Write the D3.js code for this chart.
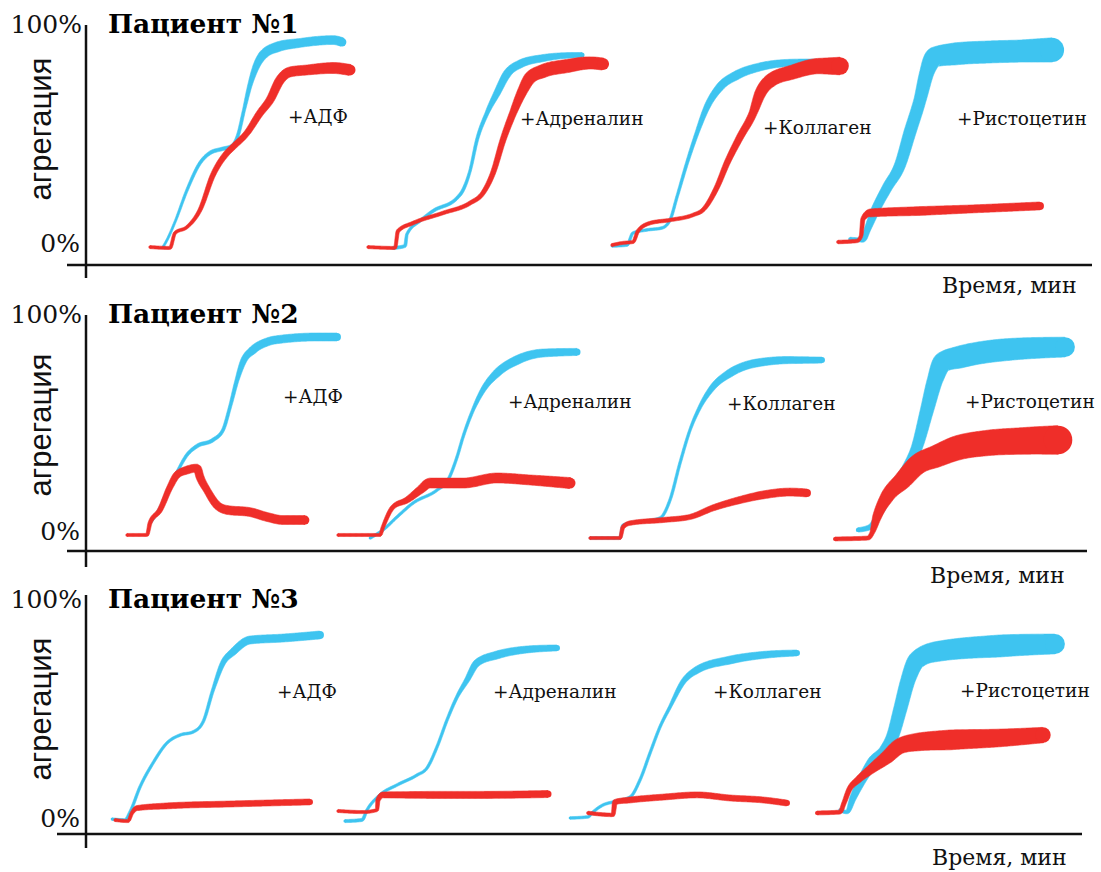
<!DOCTYPE html>
<html lang="ru">
<head>
<meta charset="UTF-8">
<title>Агрегация тромбоцитов</title>
<script src="https://cdn.jsdelivr.net/npm/d3@7"></script>
<style>
    body { margin: 0; background: #fff; }
    svg { display: block; }
    .axis-line { stroke: #111; stroke-width: 2.5; }
    .pct { font-family: "DejaVu Serif", serif; font-size: 25px; fill: #111; }
    .title { font-family: "DejaVu Serif", serif; font-size: 26.5px; font-weight: bold; fill: #000; }
    .ylab { font-family: "Liberation Sans", Arial, sans-serif; font-size: 31px; fill: #111; }
    .agent { font-family: "DejaVu Serif", serif; font-size: 18.5px; fill: #111; }
    .xlab { font-family: "DejaVu Serif", serif; font-size: 22px; fill: #111; }
</style>
</head>
<body>
<svg id="chart" width="1101" height="872"></svg>
<script>
    // labels
    var patients = ["Пациент №1", "Пациент №2", "Пациент №3"];
    var agonists = ["+АДФ", "+Адреналин", "+Коллаген", "+Ристоцетин"];

    // traces: [time, s ; aggregation, % ; signal spread, %]
    // one run per agonist, blue = norm, red = patient
    var p1Blue = [
        [[77,-1.4,1],[81,1.8,1],[89,10,1],[101,24.5,1.2],[114,36.8,1.4],[124,41.4,1.6],[136,43.2,1.6],[146,44.5,1.6],[152,49.5,1.4],[158,60.9,1.4],[164,72.3,2],[170,80.5,3],[177,85.9,4],[191,89.5,4.5],[214,91.4,4],[247,92.7,4],[256,91.8,4]],
        [[307,-1.8,1.4],[319,-0.9,1.4],[321,4.5,1.2],[334,10.5,1.2],[347,15,1.4],[371,20.9,1.4],[377,24.5,1.4],[384,33.2,1.2],[391,47.3,1.4],[401,59.5,1.8],[411,68.6,3],[421,77.3,3.6],[434,81.8,3.6],[457,84.5,3.2],[474,85.5,2.7],[496,85.9,2.3]],
        [[526,-0.9,1.2],[541,-0.5,1.2],[547,5,1.2],[561,6.4,1.2],[576,7.3,1.2],[584,10.9,1.2],[591,21.4,1.2],[601,36.8,1.4],[611,50.5,1.8],[621,62.3,2.7],[634,71.4,3.6],[651,76.8,4],[674,80.5,3.6],[701,82.3,3.2],[729,82.7,2.7]],
        [[764,2.3,1.6],[777,1.8,2],[782,7.3,3],[789,15,4],[801,25.5,4.5],[814,35.9,5],[824,50.9,5.5],[834,65.5,5.5],[841,78.2,6.5],[849,85,9],[869,86.4,10],[904,87.3,10],[934,87.7,10],[966,88.2,11]]
    ];
    var p1Red = [
        [[64,-1.4,1.4],[84,-1.8,1.4],[89,5,1.4],[101,7.7,1.4],[114,15.5,1.8],[127,31.4,2.3],[141,41.4,2.7],[147,44.1,2.7],[161,50.5,2.7],[174,59.5,3.2],[184,65.5,3.6],[194,74.5,4.1],[204,78.2,4.5],[221,79.1,4.5],[247,80,5],[264,79.1,5]],
        [[282,-1.4,1.4],[309,-1.8,1.4],[312,5.9,1.6],[327,9.5,1.6],[357,14.1,1.6],[384,18.6,1.8],[397,23.2,2],[407,32.3,2.3],[417,47.3,2.7],[427,59.5,3.2],[437,70,4.5],[444,75.5,5.5],[457,78.6,6],[481,80.9,6],[504,82.3,5.5],[517,81.8,5.5]],
        [[526,-0.5,1.4],[537,0.5,1.4],[547,0.9,1.4],[552,5.9,1.6],[564,9.5,1.6],[584,10.9,1.6],[607,13.2,1.6],[617,15.5,1.8],[631,25.9,2.3],[641,36.8,2.7],[654,48.6,3.2],[667,59.5,3.6],[674,68.2,5],[684,74.1,6],[707,78.2,6.4],[734,80.9,7],[754,80.9,8]],
        [[752,0.9,1.6],[771,1.4,1.6],[775,3.6,1.6],[777,11.4,2],[784,14.1,3.6],[834,15,4],[884,15.9,3.6],[954,17.3,3.6]]
    ];

    var p2Blue = [
        [[64,4.5,1.2],[74,11.4,1.2],[84,21.8,1.2],[91,27.7,1.2],[101,35.5,1.4],[111,39.5,1.6],[127,42.3,1.6],[137,46.8,1.4],[144,57.3,1.4],[151,69.5,1.8],[157,77.7,2.7],[167,83.2,3.6],[181,86.8,3.6],[197,88.2,3.6],[231,89.1,3.6],[251,89.1,3.6]],
        [[284,-2.3,1.2],[297,1.4,1.2],[311,7.3,1.2],[327,13.6,1.2],[351,19.5,1.2],[362,24.1,1.2],[371,34.5,1.2],[377,43.6,1.2],[387,55.9,1.4],[397,65,2.3],[411,72.7,3.6],[431,78.6,4],[457,81.8,3.6],[491,82.3,3.2]],
        [[504,-2.3,1.2],[534,-2.3,1.2],[537,3.6,1.2],[574,6.8,1.2],[584,15,1.2],[594,31.8,1.2],[604,46.8,1.2],[614,57.3,1.6],[627,66.4,2.7],[644,72.7,3.6],[671,77.3,3.6],[704,78.6,3.2],[736,78.6,2.7]],
        [[772,1.4,2],[784,2.7,2.3],[794,9.5,3],[807,20.5,4],[821,29.5,4.5],[831,39.1,5],[841,55.9,6],[849,69.5,7],[857,77.7,9],[874,80,10],[917,83.2,10],[979,84.5,9]]
    ];
    var p2Red = [
        [[41,-0.9,1.4],[61,-0.9,1.4],[64,4.5,1.8],[74,10.5,2.3],[84,20.9,2.7],[91,26.4,3.2],[101,28.6,3.6],[111,29.5,3.6],[114,25.5,3.6],[121,19.5,3.2],[131,12.7,3.6],[141,10.5,4],[164,9.5,4],[181,7.3,4],[197,5.9,4],[219,5.9,4]],
        [[252,-0.9,1.4],[294,-0.9,1.4],[297,2.7,1.6],[307,11.8,2],[321,15,2.7],[334,19.5,3.6],[344,22.7,4.5],[377,22.7,4.5],[411,25,4.5],[444,24.1,4.5],[484,22.7,5]],
        [[504,-2.3,1.4],[534,-2.3,1.4],[537,2.7,1.8],[544,4.5,2],[577,5.9,2.3],[604,7.3,2.3],[627,11.4,2.7],[654,15,3.2],[677,17.3,3.6],[704,18.6,3.6],[721,18.2,3.6]],
        [[749,-2.7,1.8],[782,-2.3,1.8],[786,0,2],[791,7.3,4],[801,16.4,6],[817,24.1,8],[831,30.9,9],[851,35,10],[871,38.6,11],[901,40.9,11.5],[934,41.8,12],[972,42.3,13]]
    ];

    var p3Blue = [
        [[26,-0.5,1.2],[39,-0.9,1.2],[44,2.7,1.2],[54,14.1,1.2],[67,25,1.2],[81,34.1,1.2],[94,37.7,1.2],[107,39.1,1.2],[117,43.6,1.2],[127,58.2,1.4],[137,70.5,2.3],[147,75.5,3.2],[164,80.9,3.6],[197,81.8,3.6],[234,83.2,3.6]],
        [[259,-1.4,1.4],[276,-0.9,1.4],[281,3.6,1.2],[294,10.5,1.2],[311,15,1.2],[331,19.5,1.2],[341,22.7,1.2],[351,32.3,1.2],[361,44.5,1.2],[371,55,1.4],[381,62.7,2.3],[391,70.5,3.2],[411,74.1,3.6],[437,76.4,3.2],[471,77.3,2.7]],
        [[484,0,1.2],[502,0.5,1.2],[507,2.7,1.2],[517,5.9,1.2],[527,7.3,1.2],[544,9.5,1.2],[554,17.3,1.2],[564,29.5,1.2],[574,41.4,1.2],[584,50.5,1.4],[597,61.8,2.3],[611,67.3,3.2],[644,71.8,3.6],[677,74.1,3.2],[711,75,2.7]],
        [[754,3.6,1.6],[761,2.7,1.6],[767,9.1,3],[777,18.2,4],[787,25.5,5],[799,30.9,5],[807,37.7,5.5],[814,49.1,6],[822,62.7,6.5],[831,71.8,8],[849,75.5,9],[914,78.2,10],[969,79.1,9]]
    ];
    var p3Red = [
        [[29,-0.9,1.4],[42,-1.4,1.4],[46,2.3,1.6],[51,4.5,2.3],[81,5.5,2.7],[147,6.4,2.7],[224,7.3,2.7]],
        [[252,3.2,1.4],[277,2.7,1.4],[291,3.6,1.4],[292,8.2,2],[297,10.5,2.7],[344,10.5,3.2],[394,10.5,3.2],[462,10.9,3.2]],
        [[502,2.3,1.6],[527,1.4,1.6],[529,7.3,2.3],[544,8.2,2.7],[577,9.5,2.7],[611,10.5,2.7],[644,9.1,2.7],[677,8.2,2.7],[701,6.8,2.7]],
        [[731,2.3,1.8],[754,2.7,1.8],[758,6.8,2],[763,12.7,2.3],[772,17.3,3],[784,21.8,4],[801,27.7,6],[814,32.7,7],[831,34.5,8],[864,35.5,9],[914,36.4,8],[957,37.7,7]]
    ];

    var blueRuns = [p1Blue, p2Blue, p3Blue];
    var redRuns = [p1Red, p2Red, p3Red];

    ///////////////////////////// layout /////////////////////////////
    var BLUE = "#3ec4f0", RED = "#ef2e29";
    var panels = [
        {top: 33, zero: 252, y0: 244, axisY: 265, vTop: 25, vBot: 278, hLeft: 67, hRight: 1092, timeX: 942, timeY: 293, labY: 129,
            agentPos: [[288, 123], [520, 125], [763, 134], [957, 125]]},
        {top: 323, zero: 540, y0: 533, axisY: 551, vTop: 315, vBot: 567, hLeft: 67, hRight: 1087, timeX: 930, timeY: 583, labY: 425,
            agentPos: [[283, 403], [508, 408], [727, 410], [965, 408]]},
        {top: 608, zero: 827, y0: 818, axisY: 834, vTop: 595, vBot: 848, hLeft: 57, hRight: 1082, timeX: 932, timeY: 865, labY: 709,
            agentPos: [[277, 698], [493, 698], [713, 698], [960, 697]]}
    ];
    var AXIS_X = 86;

    var svg = d3.select("#chart");

    // time axis shared by all panels
    var x = d3.scaleLinear().domain([0, 1000]).range([AXIS_X, AXIS_X + 1000]);

    //draw one recorded run as a band of varying thickness
    function drawRun(g, run, y, color) {
        var pxPerPct = Math.abs(y(1) - y(0));
        var wScale = d3.scaleLinear()
            .domain(run.map(function(d) { return d[0]; }))
            .range(run.map(function(d) { return d[2]; }))
            .clamp(true);

        var line = d3.line()
            .x(function(d) { return x(d[0]); })
            .y(function(d) { return y(d[1]); })
            .curve(d3.curveMonotoneX);

        var tmp = g.append("path").attr("d", line(run)).attr("fill", "none");
        var node = tmp.node();
        var L = node.getTotalLength();
        var pts = [];
        for (var s = 0; s <= L; s += 1.2) {
            var p = node.getPointAtLength(s);
            pts.push([p.x, p.y]);
        }
        var pe = node.getPointAtLength(L);
        pts.push([pe.x, pe.y]);
        tmp.remove();

        var left = [], right = [];
        for (var i = 0; i < pts.length; i++) {
            var a = pts[Math.max(0, i - 1)], b = pts[Math.min(pts.length - 1, i + 1)];
            var dx = b[0] - a[0], dy = b[1] - a[1];
            var len = Math.sqrt(dx * dx + dy * dy) || 1;
            var nx = -dy / len, ny = dx / len;
            var hw = wScale(x.invert(pts[i][0])) * pxPerPct / 2;
            left.push([pts[i][0] + nx * hw, pts[i][1] + ny * hw]);
            right.push([pts[i][0] - nx * hw, pts[i][1] - ny * hw]);
        }
        var poly = left.concat(right.reverse());
        g.append("path")
            .attr("d", "M" + poly.map(function(p) { return p[0].toFixed(2) + "," + p[1].toFixed(2); }).join("L") + "Z")
            .attr("fill", color)
            .attr("stroke", color)
            .attr("stroke-width", 0.6)
            .attr("stroke-linejoin", "round");

        // rounded ends
        [0, pts.length - 1].forEach(function(k) {
            g.append("circle")
                .attr("cx", pts[k][0]).attr("cy", pts[k][1])
                .attr("r", wScale(x.invert(pts[k][0])) * pxPerPct / 2)
                .attr("fill", color);
        });
    }

    panels.forEach(function(pn, pi) {
        var y = d3.scaleLinear().domain([0, 100]).range([pn.y0, pn.y0 - 220]);
        var g = svg.append("g").attr("class", "panel");

        // axes
        g.append("line").attr("class", "axis-line")
            .attr("x1", AXIS_X).attr("x2", AXIS_X).attr("y1", pn.vTop).attr("y2", pn.vBot);
        g.append("line").attr("class", "axis-line")
            .attr("x1", pn.hLeft).attr("x2", pn.hRight).attr("y1", pn.axisY).attr("y2", pn.axisY);

        g.append("text").attr("class", "pct").attr("x", 82).attr("y", pn.top)
            .attr("text-anchor", "end").text("100%");
        g.append("text").attr("class", "pct").attr("x", 80).attr("y", pn.zero)
            .attr("text-anchor", "end").text("0%");
        g.append("text").attr("class", "title").attr("x", 108).attr("y", pn.top)
            .text(patients[pi]);
        g.append("text").attr("class", "ylab")
            .attr("transform", "translate(51," + pn.labY + ") rotate(-90)")
            .attr("text-anchor", "middle").text("агрегация");
        g.append("text").attr("class", "xlab").attr("x", pn.timeX).attr("y", pn.timeY)
            .text("Время, мин");

        // traces: norm underneath, patient on top
        var traces = g.append("g").attr("class", "traces");
        blueRuns[pi].forEach(function(run) { drawRun(traces, run, y, BLUE); });
        redRuns[pi].forEach(function(run) { drawRun(traces, run, y, RED); });

        agonists.forEach(function(name, ai) {
            g.append("text").attr("class", "agent")
                .attr("x", pn.agentPos[ai][0]).attr("y", pn.agentPos[ai][1])
                .text(name);
        });
    });
</script>
</body>
</html>
